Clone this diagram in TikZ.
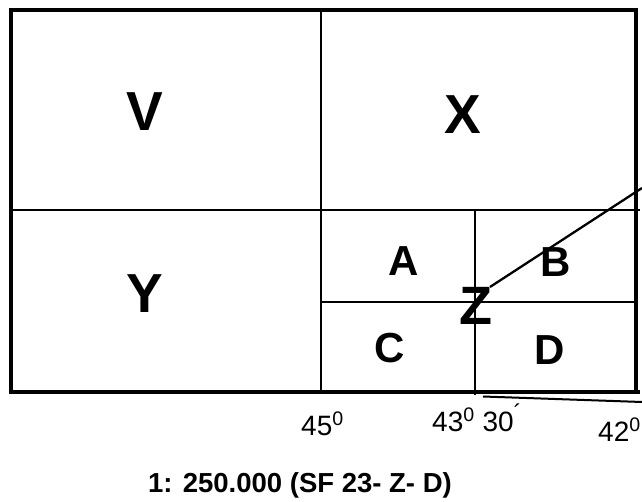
\documentclass[tikz,border=0pt]{standalone}
\usepackage{fontspec}
\setmainfont{Liberation Sans}
\begin{document}
\begin{tikzpicture}[x=1pt,y=-1pt,
  frame/.style={line width=4pt},
  gridline/.style={line width=2.5pt},
  thinline/.style={line width=2.3pt},
  biglabel/.style={font=\bfseries\fontsize{55}{60}\selectfont, inner sep=0pt},
  midlabel/.style={font=\bfseries\fontsize{42}{48}\selectfont, inner sep=0pt},
  zlabel/.style={font=\bfseries\fontsize{54}{60}\selectfont, inner sep=0pt},
  deglabel/.style={font=\fontsize{28}{32}\selectfont, inner sep=0pt, anchor=base west},
  titlelabel/.style={font=\bfseries\fontsize{27.5}{32}\selectfont, inner sep=0pt}]
\useasboundingbox (0,0) rectangle (642,502);
\fill[white] (0,0) rectangle (642,502);
% coordinates
\coordinate (tl) at (11,10);
\coordinate (br) at (636,392);
\coordinate (ml) at (11,210);
\coordinate (mr) at (640,210);
\coordinate (vt) at (321,10);
\coordinate (vb) at (321,392);
\coordinate (ivt) at (475,210);
\coordinate (ivb) at (475,395);
\coordinate (ihl) at (321,302);
\coordinate (ihr) at (636,302);
\coordinate (bl) at (11,392);
\coordinate (bre) at (640,392);
\coordinate (zs) at (490,287);
\coordinate (ze) at (642,188);
\coordinate (ls) at (483,396.5);
\coordinate (le) at (642,402);
% grid
\draw[gridline] (ml) -- (mr);
\draw[gridline] (vt) -- (vb);
\draw[gridline] (ivt) -- (ivb);
\draw[gridline] (ihl) -- (ihr);
\draw[frame] (tl) rectangle (br);
\draw[frame] (bl) -- (bre);
% labels
\node[biglabel] (V) at (145,112) {V};
\node[biglabel] (X) at (463,115) {X};
\node[biglabel] (Y) at (145,294) {Y};
\node[midlabel] (A) at (404,261) {A};
\node[midlabel] (B) at (556,262) {B};
\node[midlabel] (C) at (390,348) {C};
\node[midlabel] (D) at (550,350) {D};
\node[zlabel] (Z) at (476,306) {Z};
% pointer lines
\draw[thinline] (zs) -- (ze);
\draw[line width=2pt] (ls) -- (le);
% degree labels
\node[deglabel] (d45) at (301,435) {45\textsuperscript{0}};
\node[deglabel] (d43) at (432,431) {43\textsuperscript{0} 30\textsuperscript{\fontsize{24}{26}\selectfont ´}};
\node[deglabel] (d42) at (598,441) {42\textsuperscript{0}};
% title
\node[titlelabel, anchor=base west] (title) at (148,492) {1: 250.000 (SF 23- Z- D)};
\end{tikzpicture}
\end{document}
